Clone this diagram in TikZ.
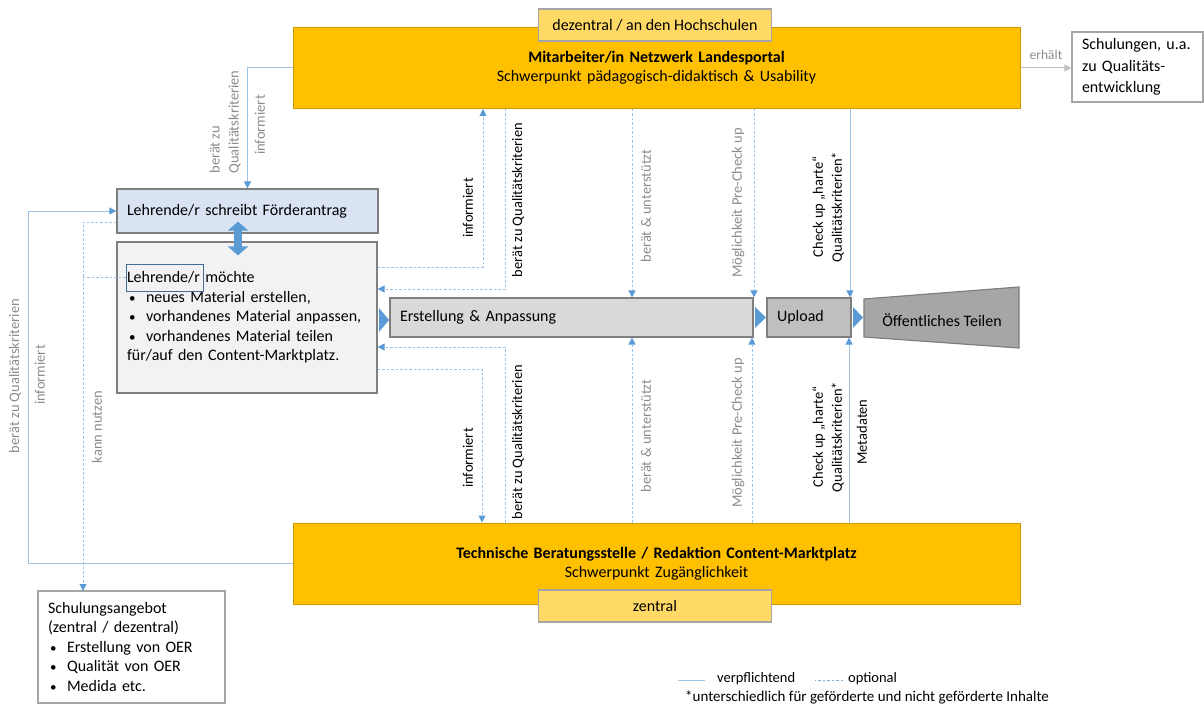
\documentclass[tikz,border=0pt]{standalone}
\usepackage{fontspec}
\setmainfont{Carlito}
\usetikzlibrary{arrows.meta,positioning}

\definecolor{gold}{RGB}{255,192,0}
\definecolor{goldrand}{RGB}{204,153,0}
\definecolor{hellgold}{RGB}{255,217,102}
\definecolor{hellblau}{RGB}{218,227,243}
\definecolor{hellgrau}{RGB}{242,242,242}
\definecolor{mittelgrau}{RGB}{217,217,217}
\definecolor{grau}{RGB}{191,191,191}
\definecolor{dunkelgrau}{RGB}{166,166,166}
\definecolor{rand}{RGB}{127,127,127}
\definecolor{linie}{RGB}{157,195,230}
\definecolor{spitze}{RGB}{91,155,213}
\definecolor{schrift}{RGB}{140,140,140}

\newcommand{\haupt}{\fontsize{16}{19.5}\selectfont}
\newcommand{\beschr}{\fontsize{14.5}{19}\selectfont}
\newcommand{\punkt}[1]{\makebox[#1][l]{\hspace{2pt}{\fontsize{13}{13}\selectfont\textbullet}}}

\tikzset{
  box/.style={draw=rand, line width=1.2pt, inner xsep=10pt, inner ysep=0pt, align=left, font=\haupt},
  stelle/.style={draw=goldrand, fill=gold, line width=1pt, text width=707pt, inner xsep=10pt, minimum height=81pt, align=center, font=\haupt},
  ort/.style={draw=rand!70, fill=hellgold, line width=1.2pt, minimum width=233pt, minimum height=32pt, font=\haupt},
  lbl/.style={rotate=90, inner sep=0pt, font=\beschr, align=center},
  glbl/.style={lbl, text=schrift},
  pflicht/.style={draw=linie, line width=1pt, -{Triangle[length=7pt,width=7pt,color=spitze]}},
  option/.style={pflicht, dash pattern=on 2.5pt off 2pt}
}

\begin{document}
\begin{tikzpicture}[x=1pt, y=-1pt]
  \useasboundingbox (0,0) rectangle (1204,706);

  % Stellen oben und unten
  \node[stelle] (MA) at (656.5,68) {\textbf{Mitarbeiter/in Netzwerk Landesportal}\\Schwerpunkt pädagogisch-didaktisch \& Usability};
  \node[ort] (DZ) at (655,25) {dezentral / an den Hochschulen};
  \node[stelle] (TB) at (656.5,563.5) {\textbf{Technische Beratungsstelle / Redaktion Content-Marktplatz}\\Schwerpunkt Zugänglichkeit};
  \node[ort] (ZE) at (655,606) {zentral};

  % Lehrende
  \node[box, fill=hellblau, text width=241pt, minimum height=44pt] (FA) at (247.5,211) {Lehrende/r schreibt Förderantrag};
  \node[box, fill=hellgrau, text width=240pt, minimum height=151pt] (GW) at (247,317.5) {Lehrende/r möchte\\
    \punkt{19pt}neues Material erstellen,\\
    \punkt{19pt}vorhandenes Material anpassen,\\
    \punkt{19pt}vorhandenes Material teilen\\
    für/auf den Content-Marktplatz.};
  \node[draw=spitze!70!black, line width=1pt, minimum width=77pt, minimum height=27pt, inner sep=0pt] (LR) at (164.5,277.5) {};
  \draw[spitze, line width=8pt, {Triangle[length=9pt,width=20pt]}-{Triangle[length=9pt,width=20pt]}] ([xshift=-9.5pt,yshift=12pt]FA.south) -- ([xshift=-9pt,yshift=-14pt]GW.north);

  % Prozess
  \node[box, fill=mittelgrau, text width=343pt, minimum height=39pt] (ER) at (571.5,317.5) {Erstellung \& Anpassung};
  \node[box, fill=grau, text width=64pt, minimum height=39pt] (UP) at (809,317.5) {Upload};
  \draw[rand, line width=1.2pt, fill=dunkelgrau] (864,299) -- (1019,287) -- (1019,348) -- (864,337) -- cycle;
  \node[font=\haupt] (OT) at (942,320) {Öffentliches Teilen};
  \fill[spitze] (379,308) -- (389,320) -- (379,332) -- cycle;
  \fill[spitze] (755,307) -- (766,317.5) -- (755,328) -- cycle;
  \fill[spitze] (853,307) -- (863,317.5) -- (853,328) -- cycle;

  % Schulungen
  \node[box, draw=dunkelgrau, fill=white, text width=111pt, minimum height=70pt, font=\fontsize{16}{21.5}\selectfont] (SU) at (1137.5,67) {Schulungen, u.a.\\zu Qualitäts-\\entwicklung};
  \node[box, draw=dunkelgrau, fill=white, text width=167pt, minimum height=112pt] (SA) at (131.5,647) {Schulungsangebot\\(zentral / dezentral)\\
    \punkt{19pt}Erstellung von OER\\
    \punkt{19pt}Qualität von OER\\
    \punkt{19pt}Medida etc.};

  % links
  \draw[pflicht] (MA.west) -| (FA.north);
  \node[glbl, align=left] at (225,122) {berät zu\\Qualitätskriterien};
  \node[glbl] at (260,125) {informiert};
  \draw[pflicht] (TB.west) -- ++(-264,0) |- (FA.west);
  \node[glbl] at (15,376) {berät zu Qualitätskriterien};
  \node[glbl] at (40,375) {informiert};
  \coordinate (kn) at (83,591);
  \draw[option] ([yshift=-11pt]FA.west) -| (kn);
  \draw[option, -] (LR.west) -- (LR.west -| kn);
  \node[glbl] at (97,427) {kann nutzen};

  % oben
  \draw[option] (GW.east |- 0,267) -| (MA.south -| 483,0);
  \node[lbl] at (468,208) {informiert};
  \draw[option] (MA.south -| 505,0) |- (GW.east |- 0,289);
  \node[lbl] at (518,200) {berät zu Qualitätskriterien};
  \draw[option] (MA.south -| 632,0) -- (ER.north -| 632,0);
  \node[glbl] at (646,206) {berät \& unterstützt};
  \draw[option] (MA.south -| 754,0) -- (ER.north -| 754,0);
  \node[glbl] at (738,203) {Möglichkeit Pre-Check up};
  \draw[pflicht] (MA.south -| 850,0) -- (UP.north -| 850,0);
  \node[lbl] at (828,207) {Check up „harte“\\Qualitätskriterien*};

  % unten
  \draw[option] (GW.east |- 0,369) -| (TB.north -| 482,0);
  \node[lbl] at (468,458) {informiert};
  \draw[option] (TB.north -| 505,0) |- (GW.east |- 0,347);
  \node[lbl] at (518,442) {berät zu Qualitätskriterien};
  \draw[option] (TB.north -| 632,0) -- (ER.south -| 632,0);
  \node[glbl] at (646,436) {berät \& unterstützt};
  \draw[option] (TB.north -| 752,0) -- (ER.south -| 752,0);
  \node[glbl] at (738,433) {Möglichkeit Pre-Check up};
  \draw[pflicht] (TB.north -| 849,0) -- (UP.south -| 849,0);
  \node[lbl] at (828,437) {Check up „harte“\\Qualitätskriterien*};
  \node[lbl] at (862,432) {Metadaten};

  % rechts
  \draw[draw=grau, line width=1pt, -{Triangle[length=7pt,width=7pt,color=grau]}] (MA.east) -- (MA.east -| SU.west);
  \node[inner sep=0pt, font=\fontsize{13.5}{16}\selectfont, text=schrift] at (1046,55) {erhält};

  % Legende
  \node[anchor=west, inner sep=0pt, font=\beschr] (VP) at (717,679) {verpflichtend};
  \node[anchor=west, inner sep=0pt, font=\beschr] (OP) at (848,679) {optional};
  \node[anchor=west, inner sep=0pt, font=\fontsize{15}{19}\selectfont] (FN) at (685,697) {*unterschiedlich für geförderte und nicht geförderte Inhalte};
  \draw[linie, line width=1pt] ([xshift=-12pt,yshift=-1pt]VP.west) -- ++(-27,0);
  \draw[spitze!80, line width=1pt, dash pattern=on 2.5pt off 2pt] ([xshift=-5pt,yshift=-1pt]OP.west) -- ++(-28,0);
\end{tikzpicture}
\end{document}
